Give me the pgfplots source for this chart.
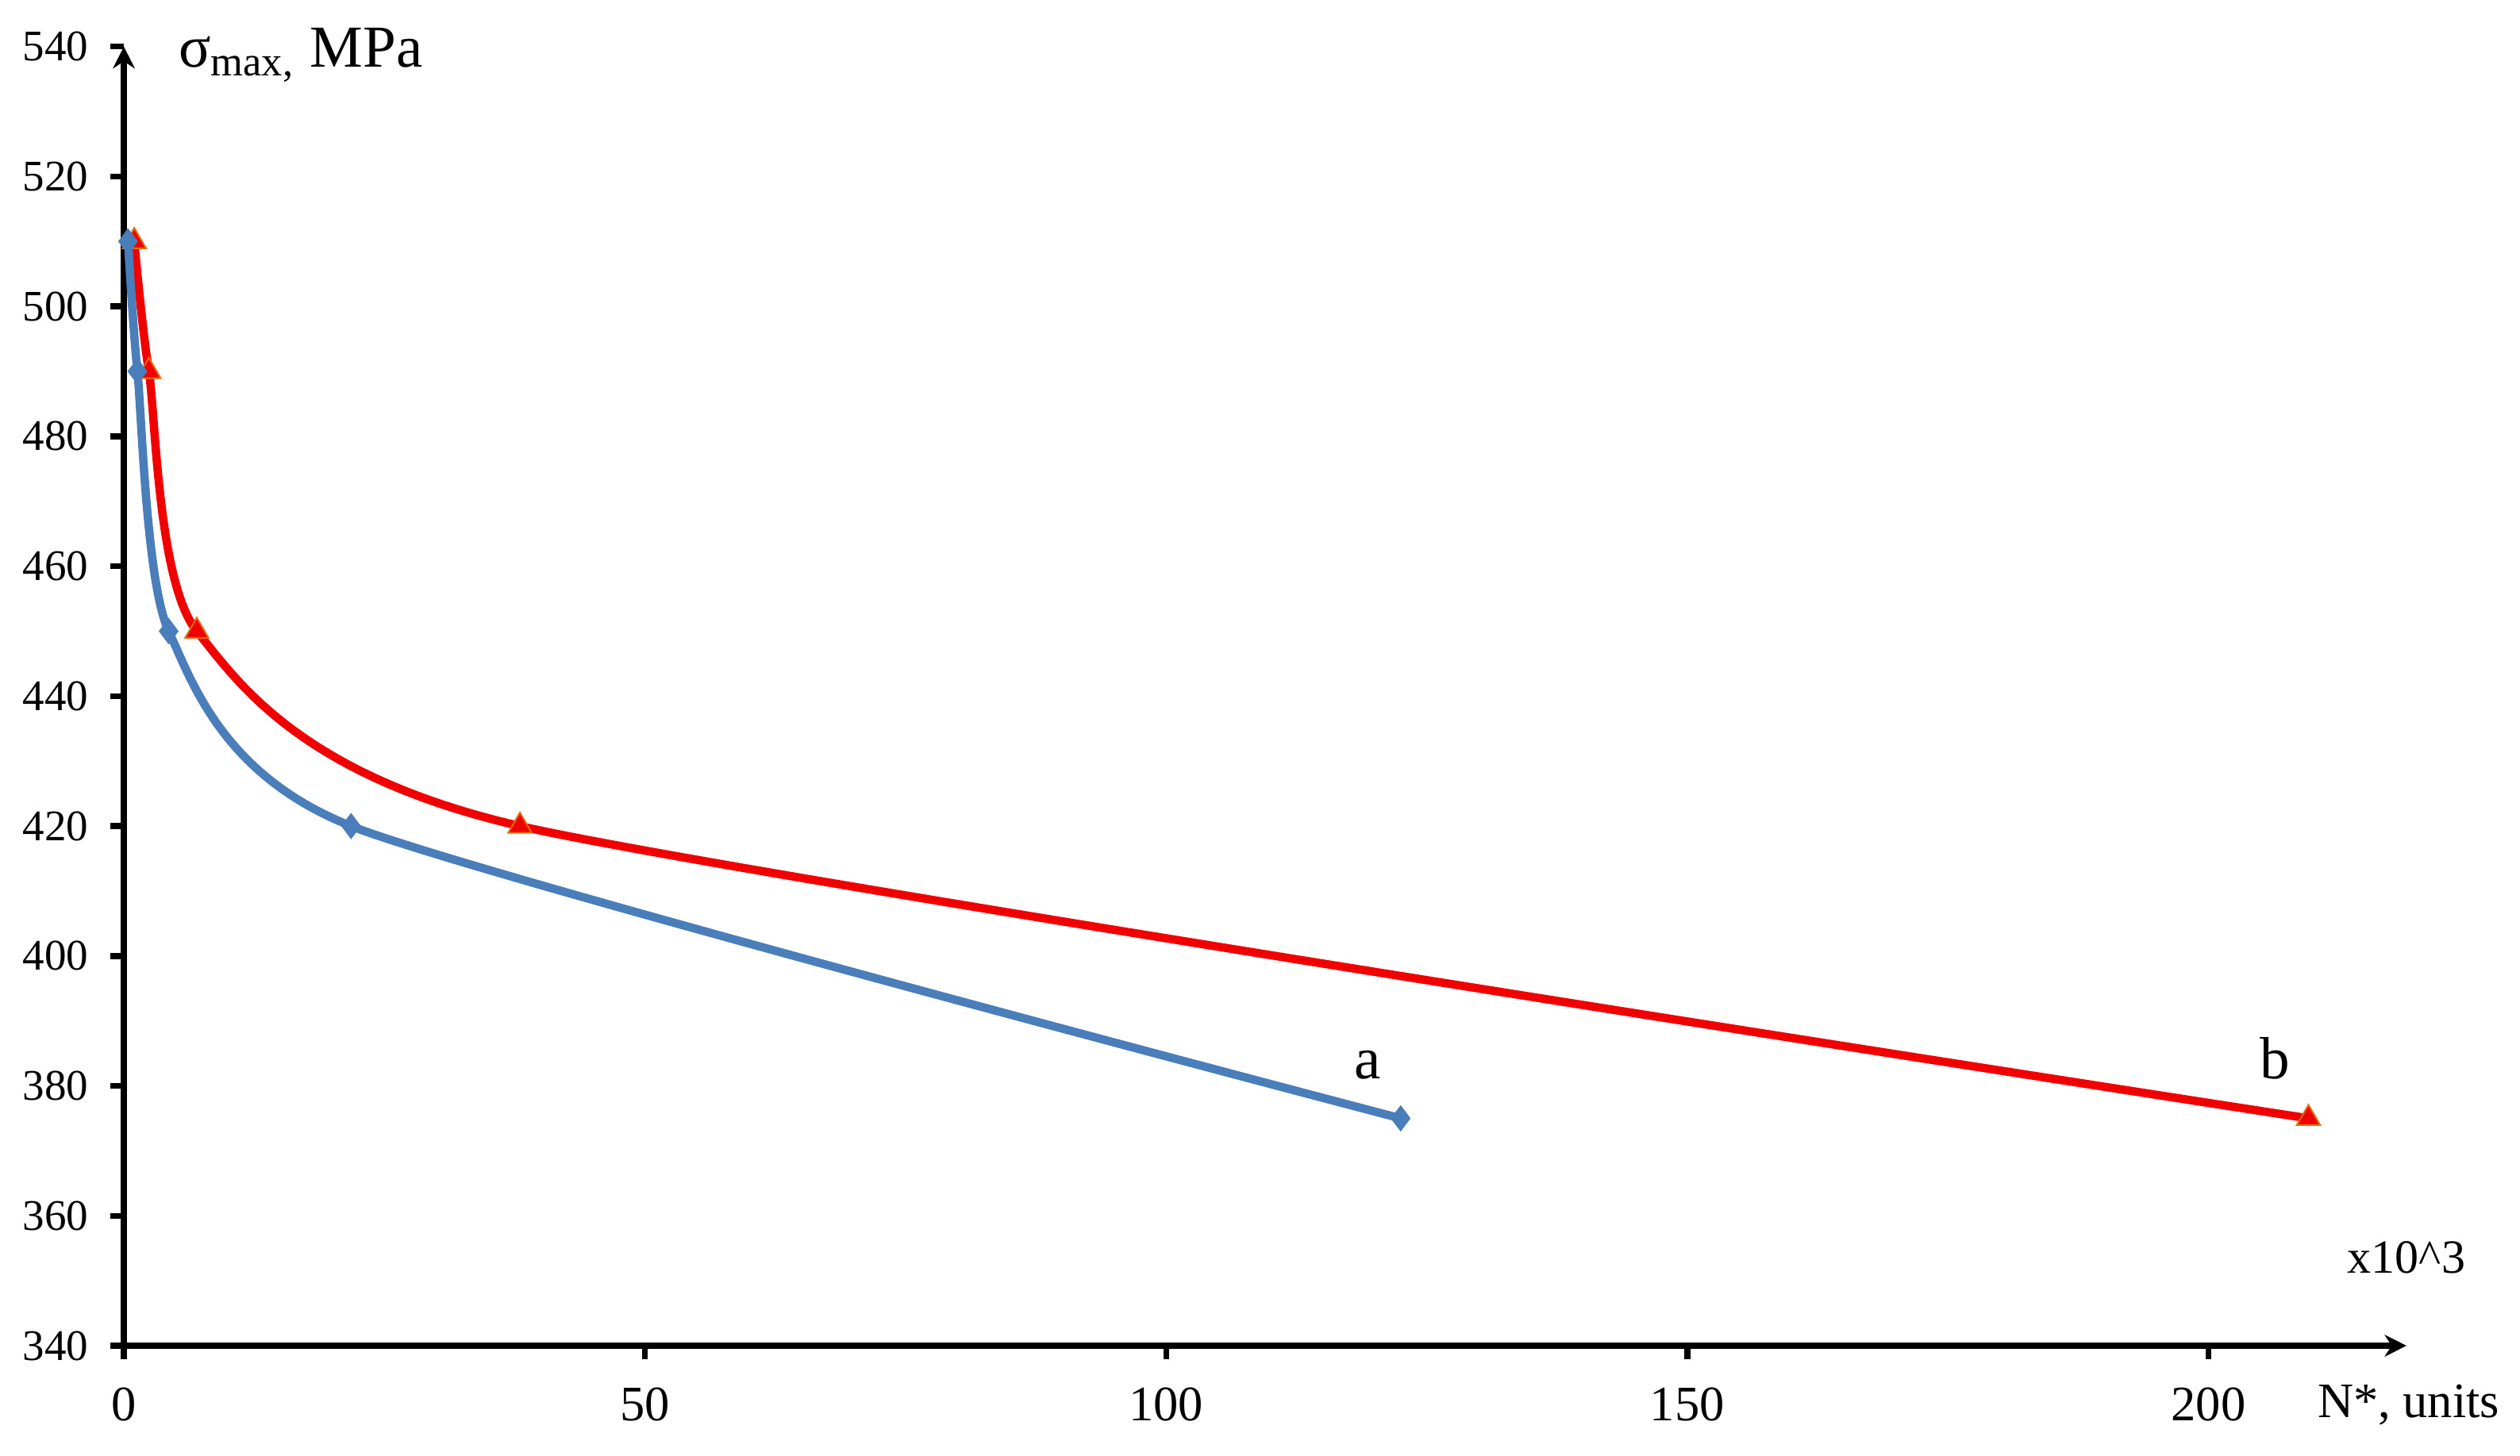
\documentclass[border=0pt]{standalone}
\usepackage{fontspec}
\setmainfont{Liberation Serif}
\usepackage{pgfplots}
\pgfplotsset{compat=1.18}
\usetikzlibrary{arrows.meta}
\definecolor{exblue}{HTML}{4A7EBB}
\definecolor{exred}{HTML}{F00000}
\definecolor{exorange}{HTML}{E46C0A}
\begin{document}
\begin{tikzpicture}
\begin{axis}[
  name=ax,
  scale only axis,
  width=574.9pt, height=327.3pt,
  xmin=0, xmax=219, ymin=340, ymax=540,
  axis x line*=bottom, axis y line*=left,
  axis line style={line width=1.5pt, black, -{Stealth[length=5.5pt,width=5.5pt]}},
  xtick={0,50,100,150,200},
  ytick={340,360,...,540},
  tick align=outside,
  major tick length=3.4pt,
  tick style={line width=1.5pt, black},
  /pgf/number format/assume math mode=true,
  xticklabel style={font=\fontsize{12.5}{15}\selectfont, yshift=-3.6pt},
  yticklabel style={font=\fontsize{11}{13}\selectfont, xshift=-2pt},
  clip=false,
]
\addplot[exred, line width=2.1pt, smooth, tension=0.38, mark=triangle*, mark size=3.4pt,
  mark options={fill=exred, draw=exorange, line width=0.4pt}]
  coordinates {(1.0,510) (2.4,490) (7.0,450) (38.0,420) (209.6,375)};
\addplot[exblue, line width=2.1pt, smooth, tension=0.38, mark=diamond*, mark size=3pt,
  mark options={fill=exblue, draw=exblue, line width=0.4pt}]
  coordinates {(0.4,510) (1.3,490) (4.3,450) (21.8,420) (122.5,375)};
\node[inner sep=0pt, anchor=base west, font=\fontsize{15}{18}\selectfont] at (axis cs:5.2,536.8) {σ\textsubscript{max,} MPa};
\node[inner sep=0pt, anchor=base, font=\fontsize{12}{14}\selectfont] at (axis cs:219,351.2) {x10\textasciicircum 3};
\node[inner sep=0pt, anchor=base west, font=\fontsize{12.5}{15}\selectfont] at (axis cs:210.4,329.0) {N*, units};
\node[inner sep=0pt, anchor=base, font=\fontsize{15}{18}\selectfont] at (axis cs:119.3,381.1) {a};
\node[inner sep=0pt, anchor=base, font=\fontsize{15}{18}\selectfont] at (axis cs:206.4,381.1) {b};
\end{axis}
\pgfresetboundingbox
\path ([shift={(-31.2pt,-27.6pt)}]ax.south west) rectangle ([shift={(28.6pt,11.74pt)}]ax.north east);
\end{tikzpicture}
\end{document}
